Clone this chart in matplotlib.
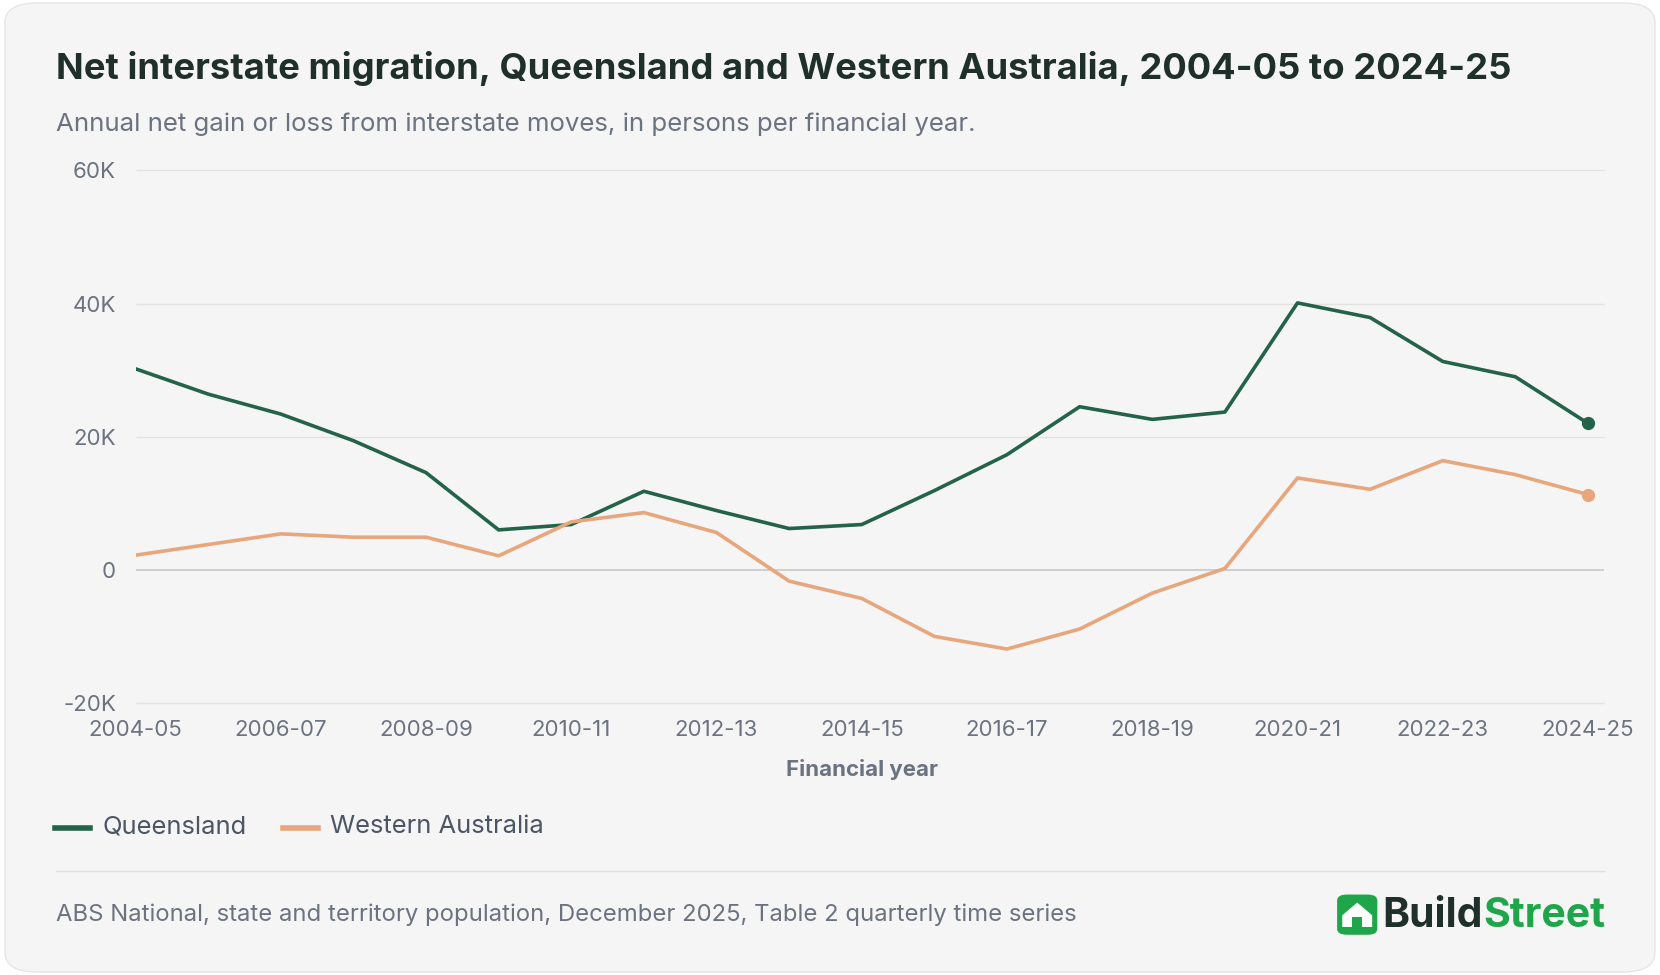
import matplotlib
matplotlib.use("Agg")
import matplotlib.pyplot as plt
from matplotlib.patches import FancyBboxPatch, Polygon, Rectangle

years = ["2004-05","2005-06","2006-07","2007-08","2008-09","2009-10","2010-11","2011-12","2012-13","2013-14",
         "2014-15","2015-16","2016-17","2017-18","2018-19","2019-20","2020-21","2021-22","2022-23","2023-24","2024-25"]
qld = [30.2,26.4,23.4,19.4,14.6,6.0,6.8,11.8,8.9,6.2,6.8,11.9,17.3,24.5,22.6,23.7,40.1,37.9,31.3,29.0,22.0]
wa = [2.2,3.8,5.4,4.9,4.9,2.1,7.2,8.6,5.6,-1.7,-4.3,-10.0,-11.9,-8.9,-3.5,0.2,13.8,12.1,16.4,14.3,11.3]
yticks = [-20,0,20,40,60]
ytick_labels = ["-20K","0","20K","40K","60K"]

W, H = 1568, 921
def fx(p): return p / W
def fy(p): return 1 - p / H

QC = "#24634a"; WC = "#e8a67c"
plt.rcParams['font.family'] = ['Inter', 'DejaVu Sans']
fig = plt.figure(figsize=(16.6, 9.75), dpi=100)
fig.patch.set_facecolor("white")
card = FancyBboxPatch((0.003, 0.003), 0.994, 0.994, boxstyle="round,pad=0,rounding_size=0.02",
                      transform=fig.transFigure, facecolor="#f5f5f5", edgecolor="#e6e6e6", zorder=-10)
fig.patches.append(card)

ax = fig.add_axes([fx(128), fy(664), (1500-128)/W, (664-161)/H])
ax.set_facecolor("none")
x = list(range(len(years)))
ax.plot(x, qld, color=QC, lw=2.6, label="Queensland")
ax.plot(x, wa, color=WC, lw=2.6, label="Western Australia")
ax.plot(x[-1], qld[-1], 'o', color=QC, ms=8.5, clip_on=False)
ax.plot(x[-1], wa[-1], 'o', color=WC, ms=8.5, clip_on=False)
ax.set_ylim(-20, 60)
ax.set_xlim(0, 20)
ax.set_yticks(yticks)
ax.set_yticklabels(ytick_labels)
ax.set_xticks(x[::2])
ax.set_xticklabels(years[::2])
xr = 20 + 15 / ((1500 - 128) / 20)
for y in yticks:
    ax.hlines(y, 0, xr, color="#c8c8c8" if y == 0 else "#e2e2e2", lw=1.2 if y == 0 else 1,
              zorder=0, clip_on=False)
for s in ax.spines.values():
    s.set_visible(False)
ax.tick_params(length=0, labelsize=16, colors="#6b7280")
ax.tick_params(axis='y', pad=14)
ax.tick_params(axis='x', pad=12)
ax.set_xlabel("Financial year", fontsize=16, color="#6b7280", fontweight="bold", labelpad=14)

fig.text(fx(53), fy(65), "Net interstate migration, Queensland and Western Australia, 2004-05 to 2024-25",
         fontsize=26.2, fontweight="bold", color="#1f2f2a", va="center")
fig.text(fx(53), fy(117), "Annual net gain or loss from interstate moves, in persons per financial year.",
         fontsize=18.6, color="#6b7280", va="center")

# legend
fig.lines.append(plt.Line2D([fx(52), fx(85)], [fy(782)]*2, color=QC, lw=4, transform=fig.transFigure))
fig.text(fx(97), fy(781), "Queensland", fontsize=18.4, color="#4b5563", va="center")
fig.lines.append(plt.Line2D([fx(267), fx(300)], [fy(782)]*2, color=WC, lw=4, transform=fig.transFigure))
fig.text(fx(312), fy(781), "Western Australia", fontsize=18.4, color="#4b5563", va="center")

fig.lines.append(plt.Line2D([fx(53), fx(1515)], [fy(823)]*2, color="#e0e0e0", lw=1, transform=fig.transFigure))
fig.text(fx(53), fy(864), "ABS National, state and territory population, December 2025, Table 2 quarterly time series",
         fontsize=17.2, color="#6b7280", va="center")

# logo
lx, ly, lw_, lh = fx(1263), fy(883), 38/W, 38/H
fig.patches.append(FancyBboxPatch((lx, ly), lw_, lh, boxstyle="round,pad=0,rounding_size=0.006",
                                  transform=fig.transFigure, facecolor="#1fa64a", edgecolor="none"))
cx = lx + lw_/2
fig.patches.append(Polygon([[cx-0.009, ly+0.020], [cx, ly+0.033], [cx+0.009, ly+0.020],
                            [cx+0.009, ly+0.008], [cx-0.009, ly+0.008]], closed=True,
                           transform=fig.transFigure, facecolor="white", edgecolor="none"))
fig.patches.append(Rectangle((cx-0.003, ly+0.008), 0.006, 0.010, transform=fig.transFigure,
                             facecolor="#1fa64a", edgecolor="none"))
t = fig.text(fx(1306), fy(865), "Build", fontsize=29.5, fontweight="bold", color="#1f2f2a", va="center")
fig.canvas.draw()
bb = t.get_window_extent()
fig.text(bb.x1/1660, fy(865), "Street", fontsize=29.5, fontweight="bold", color="#1fa64a", va="center")

fig.savefig("out.png", dpi=100, facecolor="white")
